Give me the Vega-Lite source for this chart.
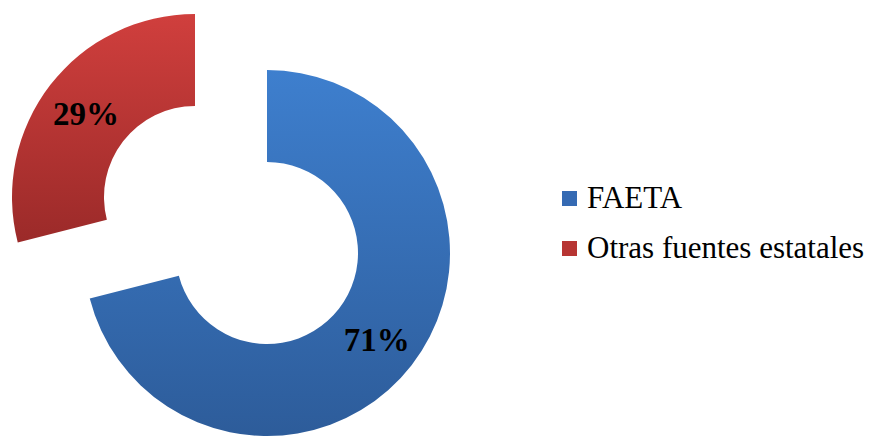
{
  "$schema": "https://vega.github.io/schema/vega-lite/v6.json",
  "width": 534,
  "height": 366,
  "autosize": "none",
  "padding": {"left": 0, "top": 70, "right": 336, "bottom": 0},
  "background": "white",
  "view": {"stroke": null},
  "data": {"values": [
    {"fuente": "FAETA", "valor": 0.71},
    {"fuente": "Otras fuentes estatales", "valor": 0.29}
  ]},
  "encoding": {
    "theta": {"field": "valor", "type": "quantitative", "stack": true},
    "order": {"field": "fuente", "sort": "ascending"},
    "detail": {"field": "fuente", "type": "nominal"}
  },
  "layer": [
    {
      "mark": {"type": "arc", "innerRadius": 91, "outerRadius": 183, "opacity": 0},
      "encoding": {
        "color": {
          "field": "fuente",
          "type": "nominal",
          "scale": {"domain": ["FAETA", "Otras fuentes estatales"], "range": ["#356AB3", "#B73533"]},
          "legend": {
            "title": null,
            "orient": "none",
            "legendX": 554,
            "legendY": 113,
            "padding": 0,
            "symbolType": "square",
            "symbolSize": 225,
            "symbolStrokeWidth": 0,
            "symbolOpacity": 1,
            "labelFont": "Liberation Serif",
            "labelFontSize": 31,
            "labelColor": "black",
            "labelOffset": 2,
            "rowPadding": 18,
            "labelLimit": 400
          }
        }
      }
    },
    {
      "mark": {"type": "arc", "innerRadius": 91, "outerRadius": 183,
        "color": {"gradient": "linear", "x1": 0, "y1": 0, "x2": 0, "y2": 1, "stops": [{"offset": 0, "color": "#3E7FCE"}, {"offset": 1, "color": "#2D5C9A"}]}},
      "encoding": {"opacity": {"condition": {"test": "datum.fuente === 'FAETA'", "value": 1}, "value": 0}}
    },
    {
      "mark": {"type": "arc", "innerRadius": 91, "outerRadius": 183, "xOffset": -72, "yOffset": -56,
        "color": {"gradient": "linear", "x1": 0, "y1": 0, "x2": 0, "y2": 1, "stops": [{"offset": 0, "color": "#D03F3D"}, {"offset": 1, "color": "#9B2A29"}]}},
      "encoding": {"opacity": {"condition": {"test": "datum.fuente === 'FAETA'", "value": 0}, "value": 1}}
    },
    {
      "mark": {"type": "text", "radius": 139, "font": "Liberation Serif", "fontWeight": "bold", "fontSize": 33, "color": "black", "baseline": "middle", "align": "center", "dy": 3},
      "encoding": {
        "text": {"field": "valor", "type": "quantitative", "format": ".0%"},
        "opacity": {"condition": {"test": "datum.fuente === 'FAETA'", "value": 1}, "value": 0}
      }
    },
    {
      "mark": {"type": "text", "radius": 138, "xOffset": -72, "yOffset": -56, "font": "Liberation Serif", "fontWeight": "bold", "fontSize": 33, "color": "black", "baseline": "middle", "align": "center", "dy": 3},
      "encoding": {
        "text": {"field": "valor", "type": "quantitative", "format": ".0%"},
        "opacity": {"condition": {"test": "datum.fuente === 'FAETA'", "value": 0}, "value": 1}
      }
    }
  ]
}
